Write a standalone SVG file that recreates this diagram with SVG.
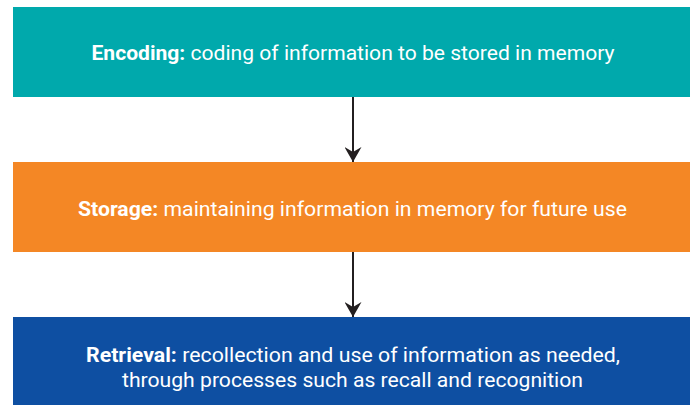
<svg xmlns="http://www.w3.org/2000/svg" width="690" height="405" viewBox="0 0 690 405">
<style>
text{font-family:Roboto,"Liberation Sans",sans-serif;font-size:21px;fill:#fff;text-anchor:middle}
.b{font-weight:bold}
.c{stroke:#231f20;stroke-width:2;fill:none}
</style>
<defs>
<marker id="ah" markerWidth="15" markerHeight="17" refX="15" refY="8.5" orient="auto" markerUnits="userSpaceOnUse">
<path d="M0,0 L15,8.5 L0,17 L5,8.5 Z" fill="#231f20"/>
</marker>
</defs>
<rect width="690" height="405" fill="#fff"/>
<g id="connectors">
<line class="c" x1="353" y1="97" x2="353" y2="162" marker-end="url(#ah)"/>
<line class="c" x1="353" y1="252" x2="353" y2="317" marker-end="url(#ah)"/>
</g>
<g id="encoding">
<rect x="13" y="7" width="677" height="90" fill="#00a9ac"/>
<text x="353" y="60" textLength="523" lengthAdjust="spacingAndGlyphs"><tspan class="b">Encoding:</tspan> coding of information to be stored in memory</text>
</g>
<g id="storage">
<rect x="13" y="162" width="677" height="90" fill="#f48725"/>
<text x="352.5" y="216" textLength="549" lengthAdjust="spacingAndGlyphs"><tspan class="b">Storage:</tspan> maintaining information in memory for future use</text>
</g>
<g id="retrieval">
<rect x="13" y="317" width="677" height="88" fill="#0e4fa2"/>
<text x="353" y="361.5" textLength="534" lengthAdjust="spacingAndGlyphs"><tspan class="b">Retrieval:</tspan> recollection and use of information as needed,</text>
<text x="352.5" y="387" textLength="461" lengthAdjust="spacingAndGlyphs">through processes such as recall and recognition</text>
</g>
</svg>
